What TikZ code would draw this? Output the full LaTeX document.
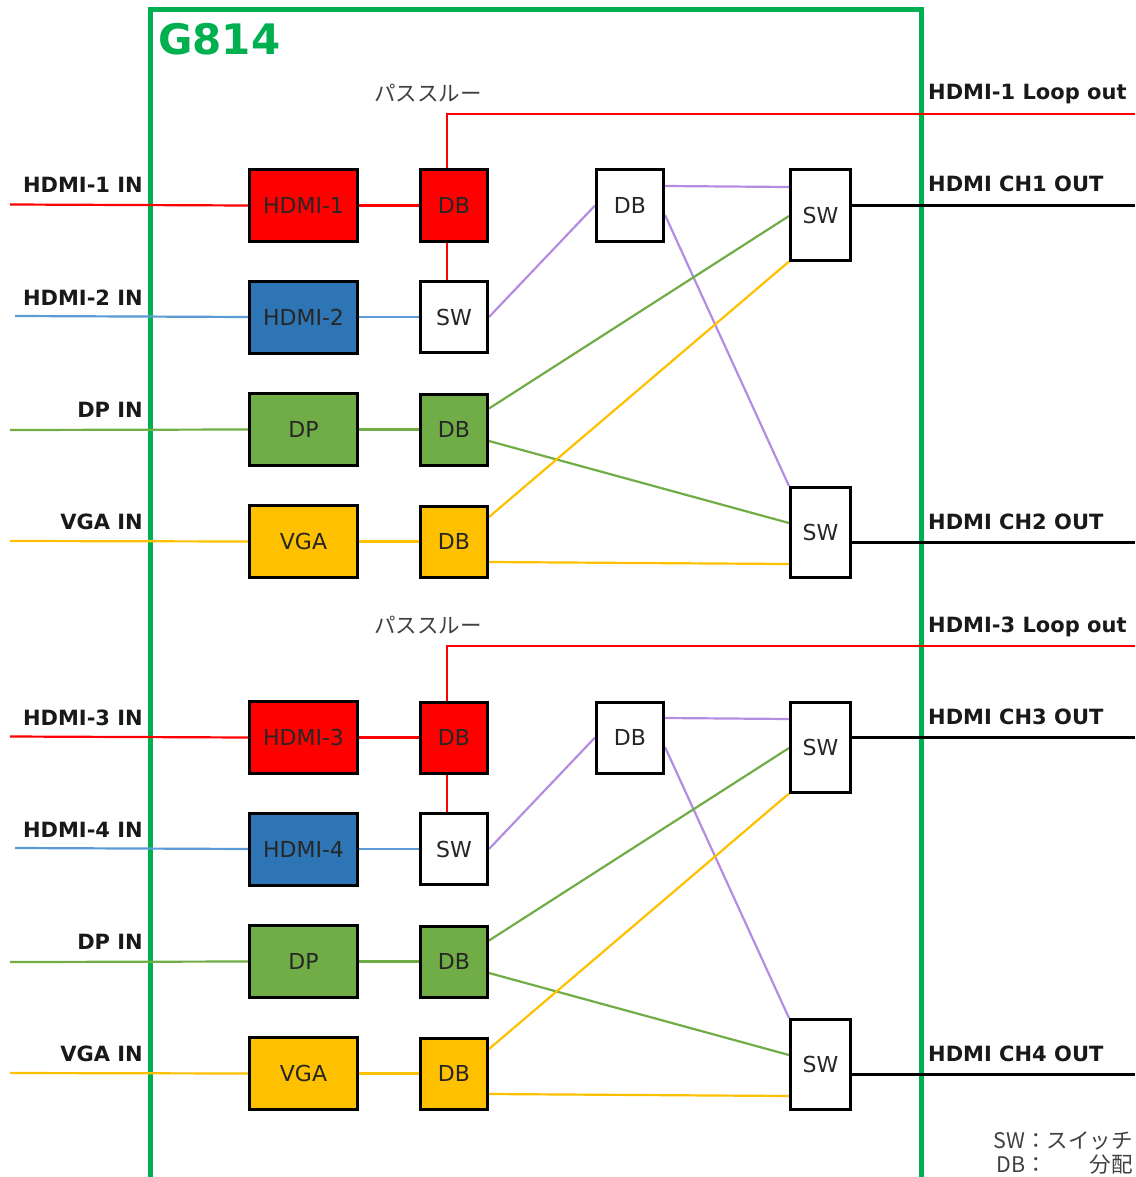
\documentclass[tikz,border=0pt]{standalone}
\usepackage{fontspec}
\setmainfont{DejaVu Sans}
\newfontfamily\jpfont{Noto Sans CJK JP}
\usepackage{tikz}
\usetikzlibrary{backgrounds}
\usepackage{xcolor}

\definecolor{frameGreen}{RGB}{0,176,80}
\definecolor{hdmiRed}{RGB}{255,0,0}
\definecolor{hdmiBlue}{RGB}{46,117,182}
\definecolor{lineBlue}{RGB}{91,155,213}
\definecolor{dpGreen}{RGB}{112,173,71}
\definecolor{vgaOrange}{RGB}{255,192,0}
\definecolor{linkPurple}{RGB}{180,140,225}
\definecolor{textGray}{RGB}{64,64,64}

\begin{document}
\begin{tikzpicture}[x=1pt, y=-1pt,
    basebox/.style={draw=black, line width=3pt, inner sep=0pt, text=black!85, font=\fontsize{22}{24}\selectfont},
    portbox/.style={basebox, minimum width=108pt, minimum height=72pt},
    unitbox/.style={basebox, minimum width=67pt, minimum height=71pt},
    swbox/.style={basebox, fill=white, minimum width=60pt, minimum height=90pt},
    wire/.style={line width=2.2pt},
    iotext/.style={inner sep=0pt, font=\bfseries\fontsize{21}{24}\selectfont, text=black!90},
    jptext/.style={inner sep=0pt, font=\jpfont\fontsize{21.5}{24}\selectfont, text=textGray}]

    \useasboundingbox (0,0) rectangle (1135,1177);

    % Draw the G814 frame (open at the bottom)
    \begin{scope}[on background layer]
        \draw[frameGreen, line width=5pt] (150,1190) -- (150,10) -- (921,10) -- (921,1190);
    \end{scope}
    \node[anchor=base west, inner sep=0pt, text=frameGreen, font=\bfseries\fontsize{42}{44}\selectfont] (title) at (158,55) {G814};

    % Two identical halves: HDMI-1/2 -> CH1/2 and HDMI-3/4 -> CH3/4
    \foreach \blk/\dy/\ia/\ib in {1/0/1/2, 2/532/3/4} {
        % Input converters
        \node[portbox, fill=hdmiRed] (inR\blk) at (303.5,{205.5+\dy}) {HDMI-\ia};
        \node[portbox, fill=hdmiBlue] (inB\blk) at (303.5,{317+\dy}) {HDMI-\ib};
        \node[portbox, fill=dpGreen] (inG\blk) at (303.5,{429.5+\dy}) {DP};
        \node[portbox, fill=vgaOrange] (inY\blk) at (303.5,{541.5+\dy}) {VGA};

        % Distributors and the HDMI switch
        \node[unitbox, fill=hdmiRed] (dbR\blk) at (454,{205.5+\dy}) {DB};
        \node[unitbox, fill=white] (swB\blk) at (454,{317+\dy}) {SW};
        \node[unitbox, fill=dpGreen] (dbG\blk) at (454,{429.5+\dy}) {DB};
        \node[unitbox, fill=vgaOrange] (dbY\blk) at (454,{541.5+\dy}) {DB};
        \node[unitbox, fill=white] (dbM\blk) at (630,{205.5+\dy}) {DB};

        % Output switches
        \node[swbox] (swU\blk) at (820.5,{215+\dy}) {SW};
        \node[swbox] (swL\blk) at (820.5,{532.5+\dy}) {SW};

        % Free ends of the outside cables
        \coordinate (srcR\blk) at (10,{204.5+\dy});
        \coordinate (srcB\blk) at (15,{316+\dy});
        \coordinate (srcG\blk) at (10,{430+\dy});
        \coordinate (srcY\blk) at (10,{541+\dy});
        \coordinate (loop\blk) at (1135,{114+\dy});
        \coordinate (outU\blk) at (1135,{205+\dy});
        \coordinate (outL\blk) at (1135,{542+\dy});

        % Labels
        \node[iotext, anchor=base east] (lblR\blk) at (143,{193+\dy}) {HDMI-\ia{} IN};
        \node[iotext, anchor=base east] (lblB\blk) at (143,{305+\dy}) {HDMI-\ib{} IN};
        \node[iotext, anchor=base east] (lblG\blk) at (143,{417+\dy}) {DP IN};
        \node[iotext, anchor=base east] (lblY\blk) at (143,{529+\dy}) {VGA IN};
        \node[iotext, anchor=base west] (lblLoop\blk) at (928,{100+\dy}) {HDMI-\ia{} Loop out};
        \node[iotext, anchor=base west] (lblU\blk) at (928,{192+\dy}) {HDMI CH\ia{} OUT};
        \node[iotext, anchor=base west] (lblL\blk) at (928,{529+\dy}) {HDMI CH\ib{} OUT};
        \node[jptext] (pass\blk) at (428,{93+\dy}) {パススルー};

        % Connections
        \begin{scope}[on background layer]
            \draw[wire, hdmiRed] (srcR\blk) -- (inR\blk.west);
            \draw[wire, lineBlue] (srcB\blk) -- (inB\blk.west);
            \draw[wire, dpGreen] (srcG\blk) -- (inG\blk.west);
            \draw[wire, vgaOrange] (srcY\blk) -- (inY\blk.west);

            \draw[wire, hdmiRed] (inR\blk.east) -- (dbR\blk.west);
            \draw[wire, hdmiRed] ([xshift=-7pt]dbR\blk.south) -- ([xshift=-7pt]swB\blk.north);
            \draw[wire, hdmiRed] ([xshift=-7pt]dbR\blk.north) |- (loop\blk);
            \draw[wire, lineBlue] (inB\blk.east) -- (swB\blk.west);
            \draw[wire, dpGreen] (inG\blk.east) -- (dbG\blk.west);
            \draw[wire, vgaOrange] (inY\blk.east) -- (dbY\blk.west);

            \draw[wire, linkPurple] (swB\blk.east) -- (dbM\blk.west);
            \draw[wire, linkPurple] ([yshift=19.5pt]dbM\blk.east) -- ([yshift=28pt]swU\blk.west);
            \draw[wire, linkPurple] ([yshift=-9.5pt]dbM\blk.east) -- (swL\blk.north west);

            \draw[wire, dpGreen] ([yshift=21pt]dbG\blk.east) -- ([yshift=-1pt]swU\blk.west);
            \draw[wire, dpGreen] ([yshift=-11.5pt]dbG\blk.east) -- ([yshift=9.5pt]swL\blk.west);
            \draw[wire, vgaOrange] ([yshift=24.5pt]dbY\blk.east) -- (swU\blk.south west);
            \draw[wire, vgaOrange] ([yshift=-20.5pt]dbY\blk.east) -- ([yshift=-31.5pt]swL\blk.west);

            \draw[line width=3pt] (swU\blk.east |- outU\blk) -- (outU\blk);
            \draw[line width=3pt] (swL\blk.east |- outL\blk) -- (outL\blk);
        \end{scope}
    }

    % Legend
    \node[jptext, anchor=base east] (legSW) at (1133,1148) {SW：スイッチ};
    \node[jptext, anchor=base east] (legDB) at (1133,1172) {DB：　　分配};

\end{tikzpicture}
\end{document}
